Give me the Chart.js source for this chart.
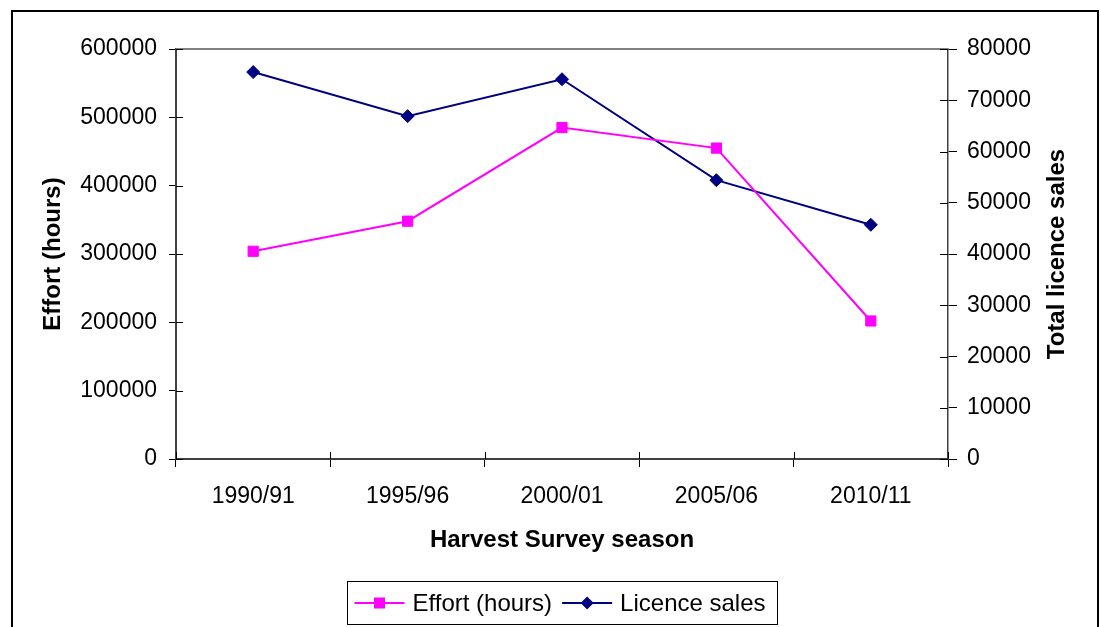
<!DOCTYPE html>
<html>
<head>
<meta charset="utf-8">
<title>Effort and licence sales</title>
<script src="https://cdn.jsdelivr.net/npm/chart.js@4.4.1/dist/chart.umd.min.js"></script>
<style>
  html, body { margin: 0; padding: 0; background: #fff; overflow: hidden; }
  #frame { position: absolute; left: 11px; top: 10px; width: 1088px; height: 700px; border: 2px solid #000; box-sizing: border-box; }
  #wrap { position: absolute; left: 0; top: 0; width: 1101px; height: 627px; }
</style>
</head>
<body>
<div id="frame"></div>
<div id="wrap"><canvas id="chartEffort"></canvas></div>
<script>
// seasons surveyed
const seasons = ["1990/91", "1995/96", "2000/01", "2005/06", "2010/11"];
// effort in hours (left axis)
const effortHours = [304000, 348000, 485000, 455000, 202000];
// total licence sales (right axis)
const licenceSales = [75500, 66900, 74100, 54400, 45700];

const effortAxis = { min: 0, max: 600000, step: 100000 };
const salesAxis = { min: 0, max: 80000, step: 10000 };

const FONT = '"Liberation Sans", Arial, sans-serif';
const tickFont = { family: FONT, size: 23 };

// titles, inner half of the cross tick marks, plot border and the legend box
const extras = {
  id: 'extras',
  beforeDatasetsDraw(chart) {
    const ctx = chart.ctx, a = chart.chartArea;
    ctx.save();
    ctx.strokeStyle = '#808080';
    ctx.lineWidth = 2;
    ctx.beginPath();
    ctx.moveTo(a.left, a.top);
    ctx.lineTo(a.right, a.top);
    ctx.stroke();
    ctx.restore();
  },
  afterDraw(chart) {
    const ctx = chart.ctx, a = chart.chartArea;
    const sx = chart.scales.x, sy = chart.scales.y, sy2 = chart.scales.y2;
    ctx.save();

    // ticks cross the axis lines
    ctx.strokeStyle = '#000';
    ctx.lineWidth = 1;
    ctx.beginPath();
    sy.ticks.forEach(t => {
      const y = Math.round(sy.getPixelForValue(t.value)) + 0.5;
      ctx.moveTo(a.left, y); ctx.lineTo(a.left + 7, y);
    });
    sy2.ticks.forEach(t => {
      const y = Math.round(sy2.getPixelForValue(t.value)) + 0.5;
      ctx.moveTo(a.right, y); ctx.lineTo(a.right - 8, y);
    });
    for (let i = 0; i <= seasons.length; i++) {
      const x = Math.round(sx.getPixelForValue(i - 0.5)) + 0.5;
      ctx.moveTo(x, a.bottom); ctx.lineTo(x, a.bottom - 7);
    }
    ctx.stroke();

    // axis titles
    ctx.fillStyle = '#000';
    ctx.font = 'bold 24px ' + FONT;
    ctx.textAlign = 'center';
    ctx.textBaseline = 'middle';
    const midY = (a.top + a.bottom) / 2;
    ctx.fillText('Harvest Survey season', (a.left + a.right) / 2, 540);

    ctx.save();
    ctx.translate(53, midY);
    ctx.rotate(-Math.PI / 2);
    ctx.fillText('Effort (hours)', 0, 0);
    ctx.restore();

    ctx.save();
    ctx.translate(1057, midY);
    ctx.rotate(-Math.PI / 2);
    ctx.fillText('Total licence sales', 0, 0);
    ctx.restore();

    // legend
    ctx.font = '24px ' + FONT;
    const items = chart.data.datasets.map(ds => ({ ds, w: ctx.measureText(ds.label).width }));
    const lineLen = 50, gapText = 8, gapItem = 10, padL = 7, padR = 12;
    let total = padL + padR + gapItem * (items.length - 1);
    items.forEach(it => total += lineLen + gapText + it.w);
    const boxX = Math.round((a.left + a.right) / 2 - total / 2) + 0.5;
    const boxY = 581.5, boxH = 43;
    ctx.strokeStyle = '#000';
    ctx.lineWidth = 1;
    ctx.strokeRect(boxX, boxY, Math.round(total), boxH);

    let x = boxX + padL;
    const cy = boxY + boxH / 2;
    items.forEach(it => {
      const ds = it.ds;
      ctx.strokeStyle = ds.borderColor;
      ctx.lineWidth = 2;
      ctx.beginPath();
      ctx.moveTo(x, cy); ctx.lineTo(x + lineLen, cy);
      ctx.stroke();
      const mx = x + lineLen / 2;
      ctx.fillStyle = ds.pointBackgroundColor;
      ctx.beginPath();
      if (ds.pointStyle === 'rect') {
        ctx.rect(mx - 5.5, cy - 5.5, 11, 11);
      } else {
        ctx.moveTo(mx, cy - 6.5); ctx.lineTo(mx + 6.5, cy);
        ctx.lineTo(mx, cy + 6.5); ctx.lineTo(mx - 6.5, cy);
        ctx.closePath();
      }
      ctx.fill();
      ctx.fillStyle = '#000';
      ctx.textAlign = 'left';
      ctx.fillText(ds.label, x + lineLen + gapText, cy + 1);
      x += lineLen + gapText + it.w + gapItem;
    });

    ctx.restore();
  }
};

const ctx = document.getElementById('chartEffort').getContext('2d');
window.chartEffort = new Chart(ctx, {
  type: 'line',
  data: {
    labels: seasons,
    datasets: [{
      label: 'Effort (hours)',
      data: effortHours,
      yAxisID: 'y',
      borderColor: '#FF00FF',
      backgroundColor: '#FF00FF',
      pointBackgroundColor: '#FF00FF',
      pointBorderColor: '#FF00FF',
      pointStyle: 'rect',
      pointRadius: 7.2,
      pointBorderWidth: 1,
      borderWidth: 2,
      tension: 0
    }, {
      label: 'Licence sales',
      data: licenceSales,
      yAxisID: 'y2',
      borderColor: '#000080',
      backgroundColor: '#000080',
      pointBackgroundColor: '#000080',
      pointBorderColor: '#000080',
      pointStyle: 'rectRot',
      pointRadius: 6.5,
      pointBorderWidth: 1,
      borderWidth: 2,
      tension: 0
    }]
  },
  options: {
    responsive: true,
    maintainAspectRatio: false,
    animation: false,
    layout: { padding: { top: 49, left: 0, right: 0, bottom: 0 } },
    plugins: { legend: { display: false }, tooltip: { enabled: false } },
    scales: {
      x: {
        offset: true,
        grid: { display: true, offset: true, drawOnChartArea: false, tickLength: 8, tickColor: '#000', tickWidth: 1 },
        border: { color: '#404040', width: 2 },
        ticks: { color: '#000', font: tickFont, padding: 16, maxRotation: 0, autoSkip: false },
        afterFit(s) { s.height = 168; }
      },
      y: {
        position: 'left',
        min: effortAxis.min, max: effortAxis.max,
        grid: { display: true, drawOnChartArea: false, tickLength: 7, tickColor: '#000', tickWidth: 1 },
        border: { color: '#404040', width: 2 },
        ticks: { stepSize: effortAxis.step, color: '#000', font: tickFont, padding: 12, callback: v => String(v) },
        afterFit(s) { s.width = 176; }
      },
      y2: {
        position: 'right',
        min: salesAxis.min, max: salesAxis.max,
        grid: { display: true, drawOnChartArea: false, tickLength: 9, tickColor: '#000', tickWidth: 1 },
        border: { color: '#404040', width: 1.5 },
        ticks: { stepSize: salesAxis.step, color: '#000', font: tickFont, padding: 10, callback: v => String(v) },
        afterFit(s) { s.width = 153; }
      }
    }
  },
  plugins: [extras]
});
</script>
</body>
</html>
